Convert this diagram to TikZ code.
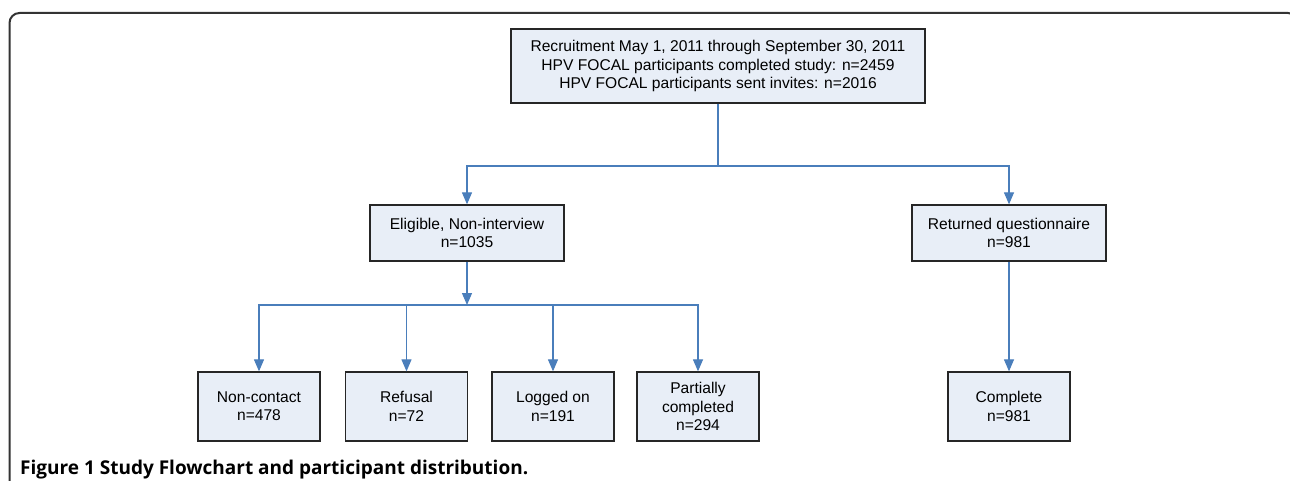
\documentclass[tikz,border=0pt]{standalone}
\usepackage{fontspec}
\setmainfont{Liberation Sans}
\newfontfamily\capfont{Open Sans}
\usetikzlibrary{arrows.meta}
\definecolor{boxfill}{HTML}{E8EEF7}
\definecolor{linkblue}{HTML}{4A7EBB}
\definecolor{framecol}{HTML}{333333}
\begin{document}
\begin{tikzpicture}[x=1pt,y=-1pt,
  box/.style={draw=black!85, line width=1.3pt, fill=boxfill, align=center,
    font=\fontsize{15.6}{18.4}\selectfont, inner sep=0pt},
  link/.style={draw=linkblue, line width=1.2pt},
  arr/.style={link, -{Triangle[width=10pt,length=12pt]}},
  captext/.style={anchor=base west, inner sep=0pt, font=\capfont\bfseries\fontsize{19}{22}\selectfont}]
\useasboundingbox (0,0) rectangle (1290,481);
\fill[white] (0,0) rectangle (1290,481);
\begin{scope}
\clip (0,0) rectangle (1290,481);
\draw[line width=2pt, draw=framecol, rounded corners=10pt] (9.5,500) -- (9.5,13) -- (1298,13) -- (1298,500);
\end{scope}

\node[box, minimum width=414pt, minimum height=74pt] (top) at (718,66)
  {Recruitment May 1, 2011 through September 30, 2011\\HPV FOCAL participants completed study: n=2459\\HPV FOCAL participants sent invites: n=2016};
\node[box, minimum width=194pt, minimum height=56pt] (elig) at (467,233) {Eligible, Non-interview\\n=1035};
\node[box, minimum width=194pt, minimum height=56pt] (ret) at (1009,233) {Returned questionnaire\\n=981};
\node[box, minimum width=122pt, minimum height=69pt] (nc) at (259,406.5) {Non-contact\\n=478};
\node[box, minimum width=122pt, minimum height=69pt] (ref) at (406.5,406.5) {Refusal\\n=72};
\node[box, minimum width=122pt, minimum height=69pt] (log) at (553,406.5) {Logged on\\n=191};
\node[box, minimum width=122pt, minimum height=69pt] (part) at (698,406.5) {Partially\\completed\\n=294};
\node[box, minimum width=122pt, minimum height=69pt] (comp) at (1009,406.5) {Complete\\n=981};

\coordinate (j1) at (718,166);
\coordinate (j2) at (467,305);
\draw[link] (top.south) -- (j1);
\draw[arr] (j1) -| (elig.north);
\draw[arr] (j1) -| (ret.north);
\draw[arr] (elig.south) -- (j2);
\draw[arr] (j2) -| (nc.north);
\draw[arr] (j2) -| (ref.north);
\draw[arr] (j2) -| (log.north);
\draw[arr] (j2) -| (part.north);
\draw[arr] (ret.south) -- (comp.north);

\node[captext] (cap) at (20,474) {Figure 1 Study Flowchart and participant distribution.};
\end{tikzpicture}
\end{document}
